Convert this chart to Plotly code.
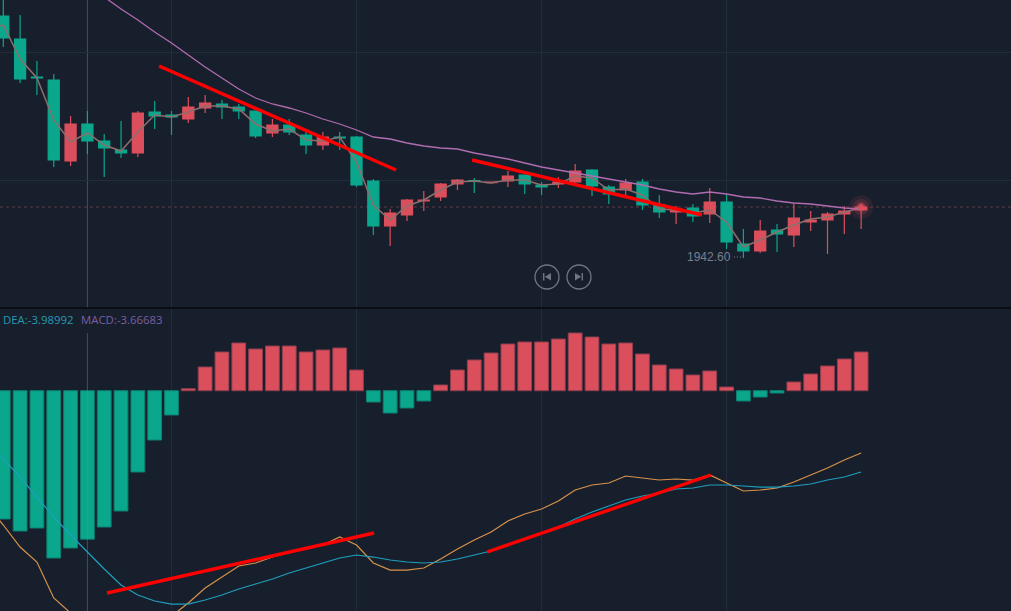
import plotly.graph_objects as go

WIDTH, HEIGHT = 1011, 611

index = list(range(52))

opens = [1966.8, 1964.5, 1960.7, 1960.4, 1952.3, 1956.0, 1954.3, 1953.4, 1953.1, 1957.2,
         1956.9, 1956.5, 1957.6, 1958.0, 1957.7, 1957.3, 1955.1, 1955.9, 1954.9, 1953.9,
         1954.7, 1954.7, 1950.3, 1945.8, 1946.9, 1948.3, 1948.7, 1950.0, 1950.33, 1950.13,
         1950.3, 1950.9, 1949.9, 1950.0, 1950.2, 1951.4, 1949.7, 1949.4, 1950.2, 1947.9,
         1947.2, 1947.6, 1947.0, 1948.2, 1944.0, 1943.3, 1945.4, 1944.9, 1946.2, 1946.4,
         1947.0, 1947.4]
highs = [1969.0, 1966.9, 1962.3, 1961.0, 1956.8, 1957.3, 1955.0, 1956.3, 1957.3, 1958.3,
         1957.3, 1958.7, 1958.9, 1958.4, 1958.0, 1957.3, 1956.5, 1956.5, 1955.2, 1955.2,
         1955.2, 1954.8, 1950.5, 1947.5, 1948.5, 1949.3, 1950.1, 1950.5, 1950.6, 1950.23,
         1951.3, 1950.9, 1950.2, 1950.7, 1952.0, 1951.5, 1949.9, 1950.5, 1950.5, 1948.9,
         1947.8, 1948.0, 1949.6, 1949.0, 1945.5, 1946.4, 1946.0, 1948.1, 1947.3, 1947.2,
         1947.8, 1948.0]
lows = [1963.7, 1960.1, 1958.9, 1951.7, 1951.8, 1953.0, 1950.7, 1952.6, 1952.7, 1955.5,
        1954.9, 1956.1, 1957.1, 1956.5, 1956.5, 1954.6, 1954.7, 1954.9, 1953.0, 1953.4,
        1953.4, 1949.7, 1944.9, 1943.8, 1946.3, 1947.3, 1948.3, 1949.4, 1949.1, 1950.07,
        1949.7, 1949.0, 1948.9, 1949.6, 1950.0, 1948.8, 1948.0, 1948.6, 1947.4, 1946.6,
        1946.0, 1946.2, 1946.1, 1943.5, 1942.6, 1943.1, 1943.2, 1943.7, 1945.3, 1943.0,
        1945.0, 1945.5]
closes = [1964.6, 1960.5, 1960.6, 1952.4, 1956.0, 1954.3, 1953.6, 1953.1, 1957.1, 1956.8,
          1956.7, 1957.7, 1958.1, 1957.7, 1957.3, 1954.8, 1955.9, 1955.2, 1953.9, 1954.7,
          1954.6, 1949.9, 1945.8, 1947.1, 1948.4, 1948.4, 1950.0, 1950.4, 1950.27, 1950.2,
          1950.8, 1950.0, 1949.7, 1950.2, 1951.3, 1949.8, 1949.0, 1950.1, 1947.9, 1947.2,
          1947.5, 1946.8, 1948.2, 1944.2, 1943.3, 1945.3, 1945.0, 1946.6, 1946.4, 1947.0,
          1947.3, 1947.7]

# the lines also have one point for the bar just left of the window
line_index = [-1] + index
ma_short = [1965.4, 1965.9, 1962.5, 1960.6, 1956.4, 1954.2, 1955.1, 1953.9, 1953.3, 1955.2, 1956.9,
            1956.7, 1957.2, 1957.8, 1957.8, 1957.5, 1956.0, 1955.3, 1955.5, 1954.4, 1954.3,
            1954.7, 1952.2, 1947.9, 1946.4, 1947.8, 1948.4, 1949.4, 1950.2, 1950.3, 1950.1,
            1950.4, 1950.4, 1949.9, 1950.0, 1950.8, 1950.6, 1949.4, 1949.5, 1948.9, 1947.5,
            1947.4, 1947.1, 1947.4, 1946.2, 1943.7, 1944.4, 1945.2, 1945.9, 1946.5, 1946.7,
            1947.2, 1947.6]
ma_long = [None, None, None, None, None, 1969.9, 1968.7, 1967.5, 1966.4, 1965.2,
           1964.1, 1962.9, 1961.7, 1960.6, 1959.5, 1958.6, 1958.0, 1957.6, 1957.1, 1956.5,
           1956.0, 1955.4, 1954.7, 1954.5, 1954.1, 1953.8, 1953.6, 1953.5, 1953.1, 1952.8,
           1952.5, 1952.1, 1951.7, 1951.4, 1951.1, 1950.8, 1950.5, 1950.2, 1949.9, 1949.5,
           1949.2, 1949.0, 1949.2, 1949.0, 1948.7, 1948.6, 1948.3, 1948.1, 1948.0, 1947.8,
           1947.6, 1947.5]

macd = [-3.169, -3.465, -3.391, -4.132, -3.885, -3.667, -3.367, -2.971, -2.008, -1.218,
        -0.600, 0.049, 0.585, 0.956, 1.178, 1.030, 1.104, 1.104, 0.956, 1.005,
        1.055, 0.511, -0.279, -0.551, -0.427, -0.254, 0.141, 0.511, 0.758, 0.931,
        1.153, 1.203, 1.203, 1.277, 1.425, 1.326, 1.153, 1.178, 0.906, 0.635,
        0.536, 0.388, 0.487, 0.091, -0.254, -0.156, -0.057, 0.215, 0.412, 0.610,
        0.783, 0.956]
dea = [-1.242, -1.687, -2.132, -2.626, -3.120, -3.564, -3.990, -4.404, -4.799, -5.046, -5.194,
       -5.269, -5.269, -5.170, -5.046, -4.898, -4.775, -4.651, -4.503, -4.379, -4.256,
       -4.132, -4.058, -4.108, -4.182, -4.231, -4.256, -4.231, -4.157, -4.058, -3.959,
       -3.811, -3.663, -3.515, -3.367, -3.169, -2.996, -2.848, -2.700, -2.601, -2.527,
       -2.428, -2.403, -2.329, -2.329, -2.354, -2.379, -2.379, -2.354, -2.305, -2.206,
       -2.132, -2.008]
dif = [-2.820, -3.317, -3.861, -4.231, -5.120, -5.491, -5.812, -6.084, -6.281, -6.059, -5.812,
       -5.565, -5.244, -4.873, -4.602, -4.330, -4.256, -4.108, -3.984, -3.910, -3.811,
       -3.614, -3.811, -4.256, -4.429, -4.429, -4.379, -4.157, -3.910, -3.688, -3.490,
       -3.218, -3.046, -2.922, -2.724, -2.453, -2.329, -2.280, -2.107, -2.156, -2.206,
       -2.181, -2.206, -2.082, -2.280, -2.477, -2.453, -2.403, -2.255, -2.082, -1.909,
       -1.712, -1.539]

# hand drawn trend lines: (index pair, value pair)
price_trends = [([9.26, 23.35], [1961.8, 1951.4]), ([27.87, 41.54], [1952.4, 1946.9])]
macd_trends = [([6.17, 22.04], [-4.997, -3.515]), ([28.76, 42.07], [-3.984, -2.082])]

UP = "#db4f5d"
DOWN = "#0aa78d"
BG = "#181f2c"
GRID = "#232c3a"
ICON = "#6f7683"
CROSSHAIR = "rgba(125,133,148,0.45)"


def px_x(x):
    return x / WIDTH


def px_y(y):
    return 1 - y / HEIGHT


fig = go.Figure()

fig.add_trace(go.Candlestick(
    x=index, open=opens, high=highs, low=lows, close=closes,
    increasing=dict(line=dict(color=UP, width=1.2), fillcolor=UP),
    decreasing=dict(line=dict(color=DOWN, width=1.2), fillcolor=DOWN),
    whiskerwidth=0, hoverinfo="skip", xaxis="x", yaxis="y",
))
fig.add_trace(go.Scatter(x=line_index, y=ma_short, mode="lines", line=dict(color="#8b6f6c", width=1.5),
                         hoverinfo="skip", xaxis="x", yaxis="y"))
fig.add_trace(go.Scatter(x=index, y=ma_long, mode="lines", line=dict(color="#b06cb0", width=1.3),
                         hoverinfo="skip", xaxis="x", yaxis="y"))
for xs, ys in price_trends:
    fig.add_trace(go.Scatter(x=xs, y=ys, mode="lines", line=dict(color="#ff0000", width=3.4),
                             hoverinfo="skip", xaxis="x", yaxis="y"))

# pulse on the last price
for size, alpha in [(24, 0.10), (16, 0.18), (9, 0.45), (5, 1)]:
    fig.add_trace(go.Scatter(x=[index[-1]], y=[closes[-1]], mode="markers",
                             marker=dict(color=UP, size=size, opacity=alpha, line=dict(width=0)),
                             hoverinfo="skip", xaxis="x", yaxis="y"))

fig.add_trace(go.Bar(
    x=index, y=macd, width=0.82,
    marker=dict(color=[UP if v >= 0 else DOWN for v in macd],
                line=dict(color=["#8f3f4e" if v >= 0 else "#0d7f70" for v in macd], width=1)),
    hoverinfo="skip", xaxis="x2", yaxis="y2",
))
fig.add_trace(go.Scatter(x=line_index, y=dif, mode="lines", line=dict(color="#d8924a", width=1.2),
                         hoverinfo="skip", xaxis="x2", yaxis="y2"))
fig.add_trace(go.Scatter(x=line_index, y=dea, mode="lines", line=dict(color="#1f9fbd", width=1.2),
                         hoverinfo="skip", xaxis="x2", yaxis="y2"))
for xs, ys in macd_trends:
    fig.add_trace(go.Scatter(x=xs, y=ys, mode="lines", line=dict(color="#ff0000", width=3.4),
                             hoverinfo="skip", xaxis="x2", yaxis="y2"))

shapes = [
    # last price line
    dict(type="line", xref="paper", x0=0, x1=1, yref="y", y0=closes[-1], y1=closes[-1],
         line=dict(color="#5a3c47", width=1, dash="3px,3px"), layer="below"),
    # crosshair
    dict(type="line", xref="x", x0=5, x1=5, yref="paper", y0=px_y(308), y1=1,
         line=dict(color=CROSSHAIR, width=1), layer="below"),
    dict(type="line", xref="x", x0=5, x1=5, yref="paper", y0=0, y1=px_y(333),
         line=dict(color=CROSSHAIR, width=1), layer="above"),
    # panel separator
    dict(type="line", xref="paper", x0=0, x1=1, yref="paper", y0=px_y(308), y1=px_y(308),
         line=dict(color="#07090d", width=1.5)),
    # leader next to the low label
    dict(type="line", xref="paper", x0=px_x(734), x1=px_x(744), yref="paper", y0=px_y(257), y1=px_y(257),
         line=dict(color="#787f8c", width=1, dash="1px,2px")),
]

# previous / next buttons
for cx in (547, 579):
    shapes.append(dict(type="circle", xref="paper", yref="paper",
                       x0=px_x(cx - 12), x1=px_x(cx + 12), y0=px_y(277 + 12), y1=px_y(277 - 12),
                       line=dict(color=ICON, width=1.3)))
for bar0, bar1, base, tip in [(543, 544.4, 551, 544.8), (583, 581.6, 575, 581.2)]:
    shapes.append(dict(type="rect", xref="paper", yref="paper",
                       x0=px_x(bar0), x1=px_x(bar1), y0=px_y(280.5), y1=px_y(273),
                       fillcolor=ICON, line=dict(width=0)))
    shapes.append(dict(type="path", xref="paper", yref="paper",
                       path=f"M {px_x(base)} {px_y(273)} L {px_x(tip)} {px_y(276.8)} L {px_x(base)} {px_y(280.5)} Z",
                       fillcolor=ICON, line=dict(width=0)))

annotations = [
    dict(xref="paper", yref="paper", x=px_x(1), y=px_y(319.5), text="DEA:-3.98992", showarrow=False,
         xanchor="left", yanchor="middle", font=dict(family="Open Sans", size=11.4, color="#2699b5")),
    dict(xref="paper", yref="paper", x=px_x(79), y=px_y(319.5), text="MACD:-3.66683", showarrow=False,
         xanchor="left", yanchor="middle", font=dict(family="Open Sans", size=11.4, color="#7a5ea6")),
    dict(xref="paper", yref="paper", x=px_x(733), y=px_y(257), text="1942.60", showarrow=False,
         xanchor="right", yanchor="middle", font=dict(family="Liberation Sans", size=12, color="#787f8c")),
]

axis_common = dict(range=[-0.196, 59.91], showticklabels=False, ticks="", showline=False, zeroline=False,
                   showgrid=True, gridcolor=GRID, gridwidth=1, tickmode="array", tickvals=[10, 21, 32, 43])

fig.update_layout(
    width=WIDTH, height=HEIGHT, margin=dict(l=0, r=0, t=0, b=0),
    paper_bgcolor=BG, plot_bgcolor=BG, showlegend=False,
    boxgap=0.34, boxgroupgap=0, barmode="overlay", hovermode=False,
    xaxis=dict(axis_common, domain=[0, 1], anchor="y", rangeslider=dict(visible=False)),
    xaxis2=dict(axis_common, domain=[0, 1], anchor="y2"),
    yaxis=dict(domain=[1 - 308 / HEIGHT, 1], range=[1937.6, 1968.4], showticklabels=False, ticks="",
               showline=False, zeroline=False, showgrid=True, gridcolor=GRID, gridwidth=1,
               tickmode="array", tickvals=[1963.2, 1950.4]),
    yaxis2=dict(domain=[0, 1 - 309 / HEIGHT], range=[-5.441, 2.018], showticklabels=False, ticks="",
                showline=False, zeroline=False, showgrid=False),
    shapes=shapes, annotations=annotations,
)

fig.write_html("out.html", config=dict(displayModeBar=False, staticPlot=True),
               post_script="document.body.style.margin='0';document.body.style.overflow='hidden';")
